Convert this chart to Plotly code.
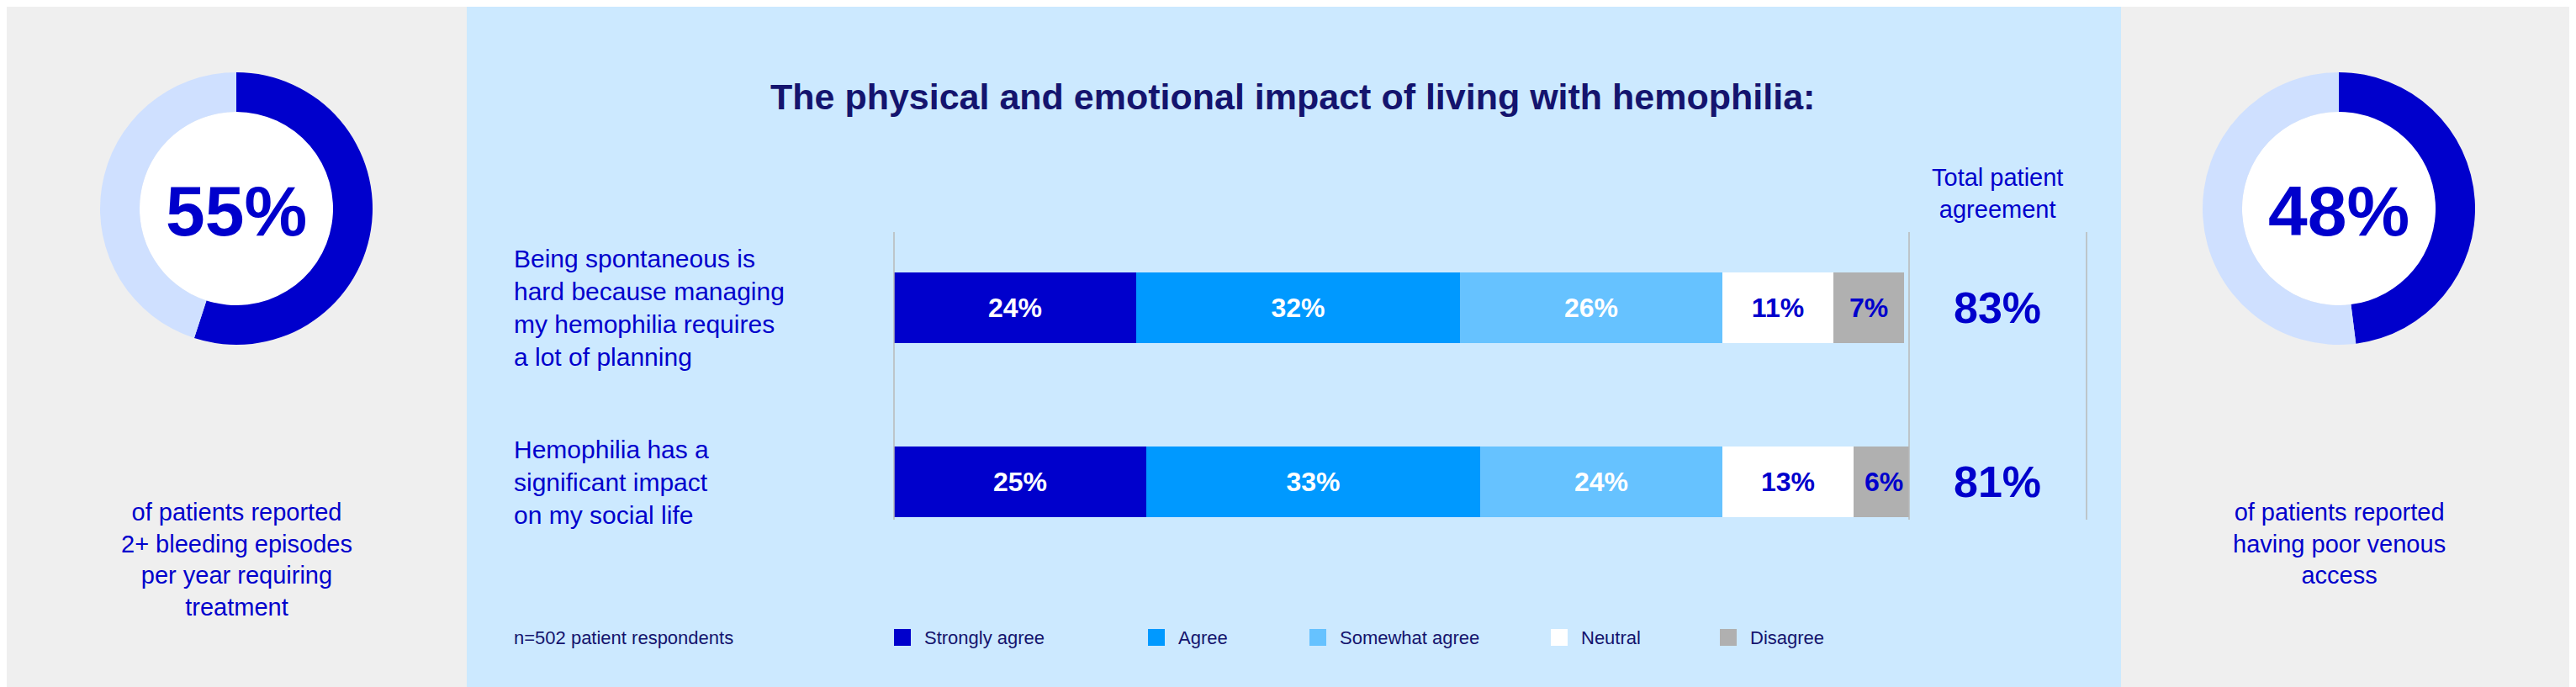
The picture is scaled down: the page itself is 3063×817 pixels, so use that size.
import plotly.graph_objects as go

W, H = 3063, 817

# ---- data ----
statements = ["Hemophilia has a<br>significant impact<br>on my social life",
              "Being spontaneous is<br>hard because managing<br>my hemophilia requires<br>a lot of planning"]
categories = ["Strongly agree", "Agree", "Somewhat agree", "Neutral", "Disagree"]
values = {
    "Strongly agree": [25, 24],
    "Agree": [33, 32],
    "Somewhat agree": [24, 26],
    "Neutral": [13, 11],
    "Disagree": [6, 7],
}
total_agreement = ["81%", "83%"]
left_pct, right_pct = 55, 48
left_caption = "of patients reported<br>2+ bleeding episodes<br>per year requiring<br>treatment"
right_caption = "of patients reported<br>having poor venous<br>access"

colors = {"Strongly agree": "#0000CC", "Agree": "#0099FF", "Somewhat agree": "#66C2FF",
          "Neutral": "#FFFFFF", "Disagree": "#B0B0B0"}
label_colors = {"Strongly agree": "white", "Agree": "white", "Somewhat agree": "white",
                "Neutral": "#0000CC", "Disagree": "#0000CC"}
DARK = "#0000CC"
NAVY = "#14146E"
FONT = "Liberation Sans"

fig = go.Figure()

ypos = [0, 1]
for c in categories:
    fig.add_trace(go.Bar(
        y=ypos, x=values[c], orientation="h", name=c,
        marker=dict(color=colors[c], line=dict(width=0)),
        width=0.406,
        text=[f"<b>{v}%</b>" for v in values[c]], textposition="inside", insidetextanchor="middle",
        textfont=dict(family=FONT, size=32, color=label_colors[c]),
        hoverinfo="skip", showlegend=False,
    ))

def px_x(p): return p / W
def px_y(p): return 1 - p / H

# donuts
for cx, pct in [(273, left_pct), (2773, right_pct)]:
    r = 162
    fig.add_trace(go.Pie(
        values=[pct, 100 - pct], marker=dict(colors=[DARK, "#CFE0FF"], line=dict(width=0)),
        hole=0.71, sort=False, direction="clockwise", rotation=0,
        textinfo="none", hoverinfo="skip", showlegend=False,
        domain=dict(x=[px_x(cx - r), px_x(cx + r)], y=[px_y(240 + r), px_y(240 - r)]),
    ))

shapes = [
    dict(type="rect", xref="paper", yref="paper", x0=px_x(547), x1=px_x(2514), y0=0, y1=1,
         fillcolor="#CCE9FF", line=dict(width=0), layer="below"),
]
for cx in (273, 2773):
    ri = 0.71 * 162
    shapes.append(dict(type="circle", xref="paper", yref="paper",
                       x0=px_x(cx - ri), x1=px_x(cx + ri), y0=px_y(240 + ri), y1=px_y(240 - ri),
                       fillcolor="white", line=dict(width=0), layer="below"))
for lx in (1055, 2262, 2473):
    shapes.append(dict(type="line", xref="paper", yref="paper", x0=px_x(lx), x1=px_x(lx),
                       y0=px_y(610), y1=px_y(268), line=dict(color="#B8B8B8", width=1.5)))

def note(text, x, y, size, color, xanchor="center", yref="paper", align="center"):
    return dict(text=text, x=x, y=y, xref="paper", yref=yref, xanchor=xanchor, yanchor="middle",
                align=align, showarrow=False, font=dict(family=FONT, size=size, color=color))

annotations = [
    note("<b>The physical and emotional impact of living with hemophilia:</b>",
         px_x(1529), px_y(107), 43, NAVY),
    note("Total patient<br>agreement", px_x(2367), px_y(222), 29, DARK),
    note("n=502 patient respondents", px_x(601), px_y(750), 22, NAVY, xanchor="left"),
]
for s, yv in zip(statements, ypos):
    annotations.append(note(s, px_x(601), yv, 30, DARK, xanchor="left", yref="y", align="left"))
for t, yv in zip(total_agreement, ypos):
    annotations.append(note(f"<b>{t}</b>", px_x(2367), yv, 52, DARK, yref="y"))
for cx, pct, cap, cy in [(273, left_pct, left_caption, 657), (2773, right_pct, right_caption, 638)]:
    annotations.append(note(f"<b>{pct}%</b>", px_x(cx), px_y(243), 84, DARK))
    annotations.append(note(cap, px_x(cx), px_y(cy), 29, DARK))

legend_x = [1055, 1357, 1549, 1836, 2037]
for c, lx in zip(categories, legend_x):
    shapes.append(dict(type="rect", xref="paper", yref="paper", x0=px_x(lx), x1=px_x(lx + 20),
                       y0=px_y(760), y1=px_y(740), fillcolor=colors[c], line=dict(width=0)))
    annotations.append(note(c, px_x(lx + 34), px_y(750), 22, NAVY, xanchor="left"))

fig.update_layout(
    width=W, height=H, margin=dict(l=0, r=0, t=0, b=0),
    barmode="stack", bargap=0,
    paper_bgcolor="#EFEFEF", plot_bgcolor="rgba(0,0,0,0)",
    xaxis=dict(domain=[px_x(1055), px_x(2262)], range=[0, 100.5], visible=False, fixedrange=True),
    yaxis=dict(domain=[px_y(610), px_y(268)], range=[-0.217, 1.435], visible=False, fixedrange=True),
    shapes=shapes, annotations=annotations, uniformtext=dict(mode="show", minsize=20),
)

fig.write_html("out.html")
